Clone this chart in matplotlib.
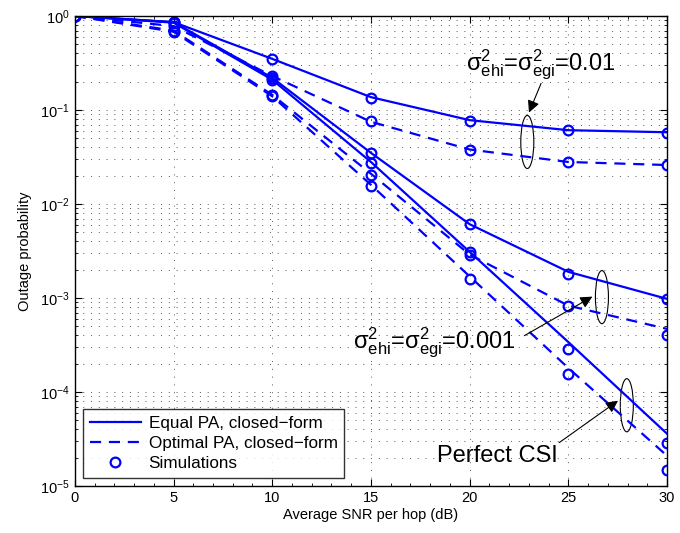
import matplotlib
matplotlib.use("Agg")
import matplotlib.pyplot as plt
from matplotlib.patches import Ellipse
from matplotlib.lines import Line2D
from matplotlib.ticker import LogLocator, NullFormatter, FixedLocator, MultipleLocator

plt.rcParams['font.family'] = ['Liberation Sans', 'DejaVu Sans']
plt.rcParams['mathtext.fontset'] = 'custom'
plt.rcParams['mathtext.rm'] = 'Liberation Sans'
plt.rcParams['mathtext.it'] = 'Liberation Sans:italic'
plt.rcParams['mathtext.bf'] = 'Liberation Sans:bold'

snr = [0, 5, 10, 15, 20, 25, 30]

# closed-form curves
eq_001_cf = [1, 0.86, 0.35, 0.137, 0.078, 0.061, 0.058]
op_001_cf = [1, 0.78, 0.23, 0.075, 0.038, 0.028, 0.026]
eq_0001_cf = [1, 0.86, 0.22, 0.035, 0.0061, 0.0019, 0.00098]
op_0001_cf = [1, 0.70, 0.145, 0.021, 0.0029, 0.00083, 0.00047]
eq_perf_cf = [1, 0.85, 0.21, 0.028, 0.0031, 0.00034, 0.000036]
op_perf_cf = [1, 0.68, 0.14, 0.016, 0.0017, 0.00018, 0.000021]

# simulations
eq_001_sim = [1, 0.86, 0.35, 0.135, 0.077, 0.061, 0.057]
op_001_sim = [1, 0.78, 0.23, 0.076, 0.038, 0.028, 0.026]
eq_0001_sim = [1, 0.86, 0.22, 0.035, 0.0061, 0.0018, 0.00098]
op_0001_sim = [1, 0.70, 0.145, 0.0203, 0.0029, 0.00083, 0.0004]
eq_perf_sim = [1, 0.85, 0.21, 0.027, 0.0031, 0.00029, 0.000029]
op_perf_sim = [1, 0.68, 0.14, 0.0155, 0.0016, 0.000155, 0.000015]

legend_labels = ['Equal PA, closed\u2212form', 'Optimal PA, closed\u2212form', 'Simulations']

blue = (0, 0, 1)
dash = (0, (5, 3.5))

fig = plt.figure(figsize=(6.8, 5.33), dpi=100)
ax = fig.add_axes([0.110, 0.088, 0.871, 0.882])

lw = 1.6
for y in [eq_001_cf, eq_0001_cf, eq_perf_cf]:
    ax.plot(snr, y, color=blue, lw=lw, ls='-')
for y in [op_001_cf, op_0001_cf, op_perf_cf]:
    ax.plot(snr, y, color=blue, lw=lw, ls=dash)
for y in [eq_001_sim, op_001_sim, eq_0001_sim, op_0001_sim, eq_perf_sim, op_perf_sim]:
    ax.plot(snr, y, ls='none', marker='o', ms=7, mfc='none', mec=blue, mew=1.6)

ax.set_yscale('log')
ax.set_xlim(0, 30)
ax.set_ylim(1e-5, 1)
ax.xaxis.set_major_locator(FixedLocator(snr))
ax.xaxis.set_minor_locator(MultipleLocator(1))
ax.yaxis.set_major_locator(LogLocator(base=10, numticks=10))
ax.yaxis.set_minor_locator(LogLocator(base=10, subs=range(2, 10), numticks=10))
ax.yaxis.set_minor_formatter(NullFormatter())

gstyle = dict(color='0.35', ls=(0, (1, 7)), lw=0.7)
ax.grid(True, which='major', axis='both', **gstyle)
ax.grid(True, which='minor', axis='y', **gstyle)
ax.tick_params(which='both', direction='in', top=True, right=True, labelsize=10.5)
ax.tick_params(which='major', length=5)
ax.tick_params(which='minor', length=2.5)
for s in ax.spines.values():
    s.set_linewidth(1.0)

ax.set_xlabel('Average SNR per hop (dB)', fontsize=10.5, labelpad=2)
ax.set_ylabel('Outage probability', fontsize=10.5, labelpad=6)

# legend
handles = [Line2D([], [], color=blue, lw=lw, ls='-'),
           Line2D([], [], color=blue, lw=lw, ls=dash),
           Line2D([], [], ls='none', marker='o', ms=7, mfc='none', mec=blue, mew=1.6)]
leg = ax.legend(handles, legend_labels, loc='lower left', bbox_to_anchor=(0.0135, 0.017),
                fontsize=12.3, frameon=True, fancybox=False, edgecolor='black',
                handlelength=3.0, handletextpad=0.45, borderaxespad=0,
                labelspacing=0.3, borderpad=0.4)
leg.get_frame().set_linewidth(1.0)

# annotations (axes fraction)
T = ax.transAxes
for cx, cy in [(0.764, 0.732), (0.890, 0.402), (0.932, 0.172)]:
    ax.add_patch(Ellipse((cx, cy), 0.022, 0.113, transform=T, fill=False, ec='black', lw=0.8))

arrow = dict(arrowstyle='-|>', color='black', lw=0.8, mutation_scale=18)
ax.annotate('', xy=(0.765, 0.789), xytext=(0.789, 0.862), xycoords=T, textcoords=T, arrowprops=arrow)
ax.annotate('', xy=(0.878, 0.406), xytext=(0.755, 0.317), xycoords=T, textcoords=T, arrowprops=arrow)
ax.annotate('', xy=(0.921, 0.185), xytext=(0.814, 0.089), xycoords=T, textcoords=T, arrowprops=arrow)

ax.text(0.787, 0.895, r'$\mathregular{σ^2_{ehi}}$=$\mathregular{σ^2_{egi}}$=0.01', transform=T,
        ha='center', va='center', fontsize=17)
ax.text(0.607, 0.305, r'$\mathregular{σ^2_{ehi}}$=$\mathregular{σ^2_{egi}}$=0.001', transform=T,
        ha='center', va='center', fontsize=17)
ax.text(0.713, 0.065, 'Perfect CSI', transform=T, ha='center', va='center', fontsize=17)

fig.savefig('out.png', dpi=100)
